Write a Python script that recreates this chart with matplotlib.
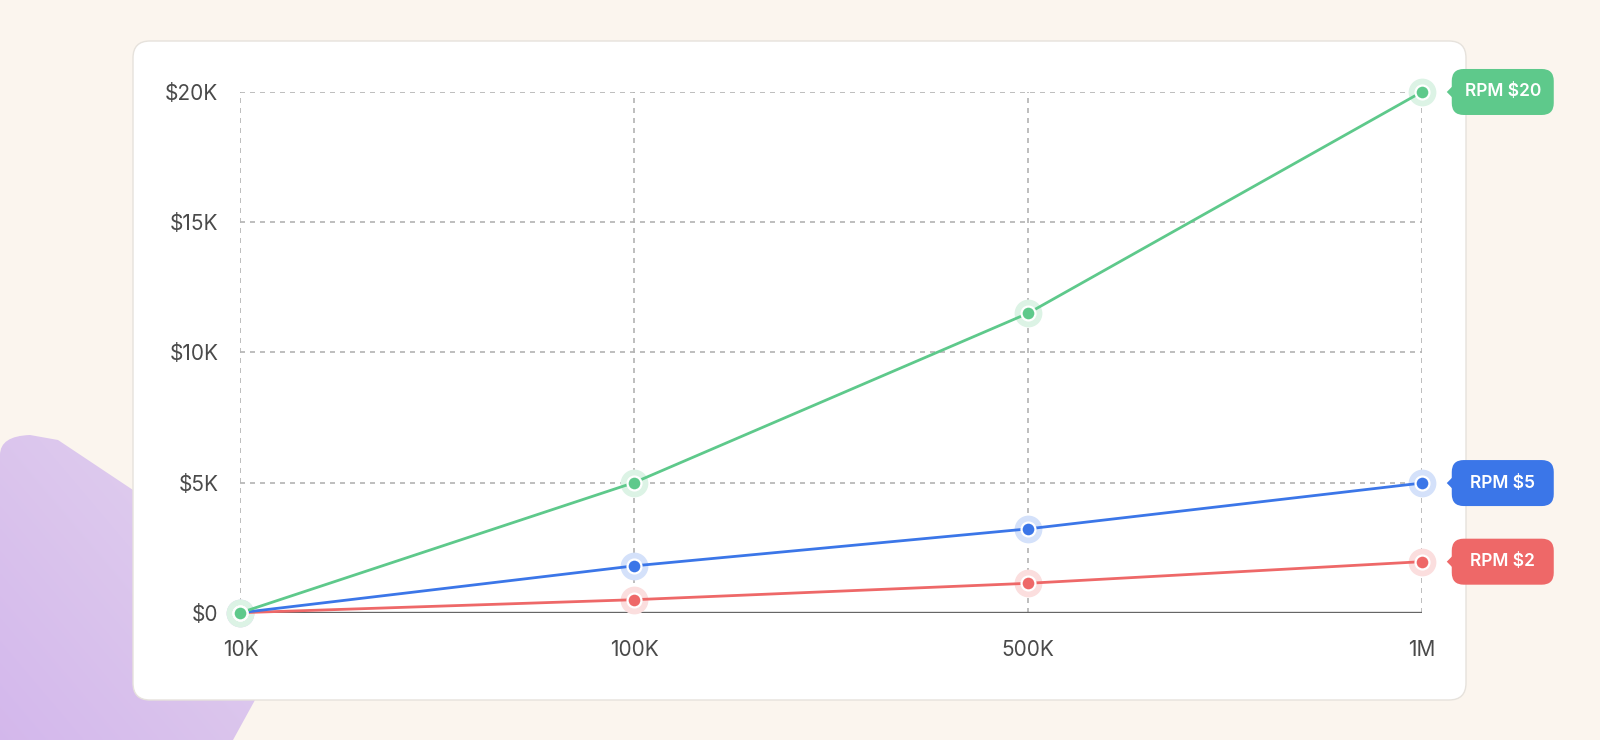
import numpy as np
import matplotlib.pyplot as plt
from matplotlib.colors import to_rgb
from matplotlib.patches import FancyBboxPatch, Polygon, PathPatch
from matplotlib.path import Path

# === Datos ===
vistas = ["10K", "100K", "500K", "1M"]
rpm_2 = [0, 500, 1130, 1960]
rpm_5 = [0, 1800, 3220, 4980]
rpm_20 = [0, 5000, 11500, 20000]
y_ticks = [0, 5000, 10000, 15000, 20000]
y_labels = ["$0", "$5K", "$10K", "$15K", "$20K"]
series = [("RPM $2", rpm_2, "#EE6868"),
          ("RPM $5", rpm_5, "#3B76E8"),
          ("RPM $20", rpm_20, "#5EC98B")]

plt.rcParams["font.family"] = ["Inter", "DejaVu Sans"]

W, H = 1600, 740
fig = plt.figure(figsize=(W / 100, H / 100), dpi=100)
fig.patch.set_facecolor("#FBF5EE")

# === Fondo: mancha violeta y tarjeta blanca ===
bg = fig.add_axes([0, 0, 1, 1], zorder=0)
bg.set_xlim(0, W)
bg.set_ylim(H, 0)
bg.axis("off")

verts = [(0, 740), (0, 455), (0, 436), (30, 435), (58, 440),
         (133, 490), (310, 600), (233, 740), (0, 740)]
codes = [Path.MOVETO, Path.LINETO, Path.CURVE3, Path.CURVE3, Path.LINETO,
         Path.LINETO, Path.LINETO, Path.LINETO, Path.CLOSEPOLY]
blob = PathPatch(Path(verts, codes), facecolor="none", edgecolor="none")
bg.add_patch(blob)
gx, gy = np.meshgrid(np.linspace(0, 1, 200), np.linspace(0, 1, 200))
t = np.clip(0.55 * gx + 0.45 * (1 - gy), 0, 1)
c0 = np.array([0.83, 0.72, 0.925])
c1 = np.array([0.895, 0.84, 0.935])
grad = c0 + (c1 - c0) * t[..., None]
im = bg.imshow(grad, extent=(0, 320, 740, 430), origin="upper", aspect="auto", zorder=1)
im.set_clip_path(blob)

card = FancyBboxPatch((133, 41), 1333, 659, boxstyle="round,pad=0,rounding_size=17",
                      facecolor="white", edgecolor="#E6E2DC", linewidth=1, zorder=2)
bg.add_patch(card)

# === Grafico ===
ax = fig.add_axes([0.1503, 0.172, 0.7383, 0.7037], zorder=1)
ax.patch.set_alpha(0)
x = np.arange(len(vistas))
ax.set_xlim(0, len(vistas) - 1)
ax.set_ylim(0, 20000)

for yv in y_ticks:
    ax.axhline(yv, color="#B3B3B3", lw=1.2, ls=(0, (3, 3)), zorder=1)
for xv in x:
    ax.axvline(xv, color="#B3B3B3", lw=1.2, ls=(0, (3, 3)), zorder=1)
ax.axhline(0, color="#666666", lw=1.7, zorder=2)

for i, (nombre, vals, color) in enumerate(series):
    halo = 1 - 0.22 * (1 - np.array(to_rgb(color)))
    ax.plot(x, vals, "o", ms=20, color=halo, mew=0, zorder=3 + 0.1 * i, clip_on=False)
    ax.plot(x, vals, color=color, lw=2.0, zorder=4 + 0.1 * i, clip_on=False)
    ax.plot(x, vals, "o", ms=10, color=color, mec="white", mew=1.6, zorder=5 + 0.1 * i, clip_on=False)

for s in ax.spines.values():
    s.set_visible(False)
ax.set_xticks(x)
ax.set_xticklabels(vistas)
ax.set_yticks(y_ticks)
ax.set_yticklabels(y_labels)
ax.tick_params(axis="both", length=0, labelsize=15, labelcolor="#4A4A4A")
ax.tick_params(axis="y", pad=16)
ax.tick_params(axis="x", pad=20)

# === Etiquetas de series ===
for nombre, vals, color in series:
    px, py = ax.transData.transform((x[-1], vals[-1]))
    bx, by = bg.transData.inverted().transform((px, py))
    caja = FancyBboxPatch((bx + 30, by - 23), 102, 46, boxstyle="round,pad=0,rounding_size=12",
                          facecolor=color, edgecolor="none", zorder=3)
    bg.add_patch(caja)
    bg.add_patch(Polygon([(bx + 31, by - 6), (bx + 25, by), (bx + 31, by + 6)],
                         closed=True, facecolor=color, edgecolor="none", zorder=3))
    bg.text(bx + 81, by, nombre, color="white", fontsize=12.5, fontweight="semibold",
            ha="center", va="center", zorder=4)

plt.savefig("out.png", dpi=100, facecolor=fig.get_facecolor())
